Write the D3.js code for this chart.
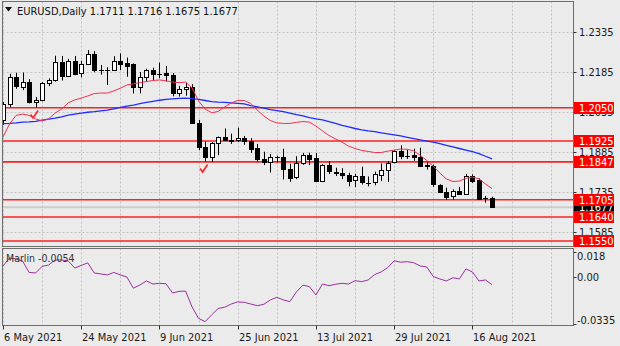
<!DOCTYPE html>
<html>
<head>
<meta charset="utf-8">
<script src="https://cdn.jsdelivr.net/npm/d3@7"></script>
<style>
  html, body { margin: 0; padding: 0; background: #ebebeb; }
  svg { display: block; font-family: "DejaVu Sans Condensed", "Liberation Sans Narrow", "Liberation Sans", sans-serif; font-stretch: condensed; }
</style>
</head>
<body>
<svg id="chart" width="620" height="346"></svg>
<script>
// EURUSD daily bars
const dates = ["2021-05-06","2021-05-07","2021-05-10","2021-05-11","2021-05-12","2021-05-13","2021-05-14","2021-05-17","2021-05-18","2021-05-19","2021-05-20","2021-05-21","2021-05-24","2021-05-25","2021-05-26","2021-05-27","2021-05-28","2021-05-31","2021-06-01","2021-06-02","2021-06-03","2021-06-04","2021-06-07","2021-06-08","2021-06-09","2021-06-10","2021-06-11","2021-06-14","2021-06-15","2021-06-16","2021-06-17","2021-06-18","2021-06-21","2021-06-22","2021-06-23","2021-06-24","2021-06-25","2021-06-28","2021-06-29","2021-06-30","2021-07-01","2021-07-02","2021-07-05","2021-07-06","2021-07-07","2021-07-08","2021-07-09","2021-07-12","2021-07-13","2021-07-14","2021-07-15","2021-07-16","2021-07-19","2021-07-20","2021-07-21","2021-07-22","2021-07-23","2021-07-26","2021-07-27","2021-07-28","2021-07-29","2021-07-30","2021-08-02","2021-08-03","2021-08-04","2021-08-05","2021-08-06","2021-08-09","2021-08-10","2021-08-11","2021-08-12","2021-08-13","2021-08-16","2021-08-17","2021-08-18","2021-08-19"];

const open = [
  1.2005,1.2065,1.2165,1.2130,1.2147,1.2071,1.2078,1.2141,1.2154,1.2223,
  1.2172,1.2227,1.2178,1.2212,1.2250,1.2196,1.2193,1.2193,1.2225,1.2218,
  1.2212,1.2127,1.2165,1.2190,1.2174,1.2180,1.2174,1.2106,1.2120,1.2127,
  1.1993,1.1903,1.1865,1.1916,1.1939,1.1926,1.1930,1.1937,1.1924,1.1898,
  1.1857,1.1846,1.1864,1.1866,1.1822,1.1790,1.1843,1.1874,1.1860,1.1775,
  1.1834,1.1810,1.1805,1.1799,1.1778,1.1793,1.1771,1.1769,1.1800,1.1818,
  1.1844,1.1886,1.1869,1.1872,1.1866,1.1836,1.1830,1.1761,1.1735,1.1718,
  1.1739,1.1728,1.1795,1.1778,1.1708,1.1711];

const high = [
  1.2071,1.2177,1.2181,1.2182,1.2157,1.2090,1.2146,1.2160,1.2245,1.2244,
  1.2233,1.2244,1.2226,1.2266,1.2262,1.2210,1.2202,1.2243,1.2254,1.2238,
  1.2216,1.2184,1.2196,1.2200,1.2219,1.2206,1.2180,1.2132,1.2144,1.2138,
  1.2004,1.1923,1.1921,1.1942,1.1972,1.1953,1.1975,1.1944,1.1936,1.1914,
  1.1885,1.1876,1.1870,1.1896,1.1840,1.1868,1.1880,1.1881,1.1880,1.1838,
  1.1849,1.1825,1.1823,1.1806,1.1802,1.1829,1.1792,1.1810,1.1841,1.1850,
  1.1891,1.1909,1.1892,1.1896,1.1900,1.1849,1.1837,1.1763,1.1750,1.1744,
  1.1753,1.1802,1.1800,1.1785,1.1719,1.1716];

const low = [
  1.1986,1.2052,1.2121,1.2116,1.2066,1.2051,1.2074,1.2131,1.2148,1.2152,
  1.2165,1.2172,1.2164,1.2210,1.2183,1.2174,1.2135,1.2188,1.2191,1.2166,
  1.2103,1.2104,1.2147,1.2151,1.2161,1.2148,1.2093,1.2092,1.2095,1.1991,
  1.1891,1.1848,1.1846,1.1872,1.1925,1.1914,1.1922,1.1911,1.1880,1.1847,
  1.1835,1.1807,1.1845,1.1781,1.1772,1.1782,1.1836,1.1835,1.1772,1.1771,
  1.1801,1.1794,1.1782,1.1755,1.1752,1.1762,1.1755,1.1759,1.1775,1.1771,
  1.1841,1.1857,1.1858,1.1851,1.1829,1.1818,1.1753,1.1733,1.1705,1.1706,
  1.1726,1.1724,1.1768,1.1704,1.1694,1.1675];

const close = [
  1.2065,1.2165,1.2130,1.2147,1.2071,1.2078,1.2141,1.2154,1.2223,1.2172,
  1.2227,1.2178,1.2212,1.2250,1.2191,1.2193,1.2192,1.2225,1.2214,1.2207,
  1.2127,1.2165,1.2190,1.2174,1.2177,1.2174,1.2106,1.2120,1.2127,1.1993,
  1.1903,1.1865,1.1916,1.1939,1.1926,1.1930,1.1937,1.1924,1.1895,1.1857,
  1.1846,1.1864,1.1866,1.1822,1.1790,1.1843,1.1874,1.1860,1.1775,1.1834,
  1.1810,1.1805,1.1799,1.1776,1.1793,1.1771,1.1769,1.1800,1.1818,1.1844,
  1.1886,1.1869,1.1870,1.1864,1.1833,1.1832,1.1761,1.1735,1.1717,1.1738,
  1.1728,1.1795,1.1777,1.1708,1.1711,1.1677];

// moving averages (fast = red, slow = blue)
const fastMA = [
  1.1940,1.1989,1.2021,1.2026,1.2021,1.2008,1.2000,1.2008,1.2030,1.2045,
  1.2068,1.2079,1.2086,1.2094,1.2103,1.2105,1.2105,1.2113,1.2123,1.2135,
  1.2139,1.2144,1.2148,1.2152,1.2154,1.2151,1.2146,1.2144,1.2146,1.2124,
  1.2075,1.2045,1.2031,1.2036,1.2053,1.2068,1.2077,1.2077,1.2066,1.2041,
  1.2019,1.2002,1.1993,1.1991,1.1991,1.1995,1.1998,1.1996,1.1981,1.1963,
  1.1946,1.1933,1.1921,1.1906,1.1897,1.1890,1.1886,1.1882,1.1882,1.1887,
  1.1891,1.1895,1.1894,1.1888,1.1871,1.1852,1.1830,1.1805,1.1783,1.1773,
  1.1775,1.1785,1.1790,1.1783,1.1764,1.1747];

const slowMA = [
  1.1990,1.1991,1.1993,1.1996,1.1997,1.1999,1.2003,1.2007,1.2011,1.2016,
  1.2022,1.2026,1.2030,1.2033,1.2035,1.2038,1.2041,1.2046,1.2051,1.2056,
  1.2060,1.2065,1.2070,1.2074,1.2078,1.2081,1.2083,1.2085,1.2086,1.2084,
  1.2081,1.2077,1.2073,1.2071,1.2070,1.2068,1.2066,1.2064,1.2058,1.2053,
  1.2048,1.2043,1.2039,1.2035,1.2030,1.2024,1.2019,1.2013,1.2008,1.2004,
  1.1998,1.1991,1.1984,1.1978,1.1972,1.1967,1.1963,1.1960,1.1956,1.1952,
  1.1948,1.1944,1.1939,1.1934,1.1929,1.1925,1.1921,1.1915,1.1909,1.1903,
  1.1897,1.1891,1.1885,1.1878,1.1868,1.1858];

// Marlin oscillator
const marlin = [
  0.0080,0.0137,0.0130,0.0116,0.0034,0.0030,0.0077,0.0087,0.0123,0.0123,
  0.0116,0.0066,0.0084,0.0102,0.0030,0.0023,0.0016,0.0034,0.0016,0.0001,
  -0.0079,-0.0056,-0.0027,-0.0049,-0.0044,-0.0047,-0.0113,-0.0102,-0.0099,-0.0213,
  -0.0295,-0.0318,-0.0270,-0.0224,-0.0215,-0.0192,-0.0177,-0.0180,-0.0192,-0.0204,
  -0.0194,-0.0163,-0.0144,-0.0163,-0.0175,-0.0106,-0.0057,-0.0068,-0.0127,-0.0049,
  -0.0061,-0.0051,-0.0044,-0.0049,-0.0025,-0.0032,-0.0020,0.0019,0.0037,0.0068,
  0.0117,0.0107,0.0111,0.0103,0.0080,0.0073,0.0004,-0.0013,-0.0027,-0.0004,
  -0.0013,0.0059,0.0037,-0.0027,-0.0020,-0.0054];

// horizontal support / resistance levels
const levels = [1.2050, 1.1925, 1.1847, 1.1705, 1.1640, 1.1550];
// price scale tick labels
const priceTicks = [1.2335, 1.2185, 1.2035, 1.1885, 1.1735, 1.1585];
// oscillator scale ticks
const marlinTicks = [0.018, 0.00, -0.0335];
const marlinTickLabels = ["0.018", "0.00", "-0.0335"];
// bars marked with a check sign
const markedBars = [5, 31];

const labelEvery = 12, gridEvery = 6;
const n = dates.length;
const parse = d3.timeParse("%Y-%m-%d");
const fmtDate = d3.timeFormat("%-d %b %Y");

const svg = d3.select("#chart");
const main = { left: 2.5, right: 573.5, top: 1.5, bottom: 246.5 };
const sub = { top: 248.5, bottom: 325.5 };

const x = d3.scaleLinear().domain([0, n - 1]).range([3, 492]);
const y = d3.scaleLinear().domain([1.1585, 1.2335]).range([231.7, 31.7]);
const ys = d3.scaleLinear().domain([-0.0335, 0.018]).range([324, 252]);
const px = v => Math.round(v) + 0.5;
const barStep = x(1) - x(0);

svg.append("rect").attr("width", 620).attr("height", 346).attr("fill", "#ebebeb");

const defs = svg.append("defs");
defs.append("clipPath").attr("id", "clipMain").append("rect")
  .attr("x", main.left).attr("y", main.top)
  .attr("width", main.right - main.left).attr("height", main.bottom - main.top);
defs.append("clipPath").attr("id", "clipSub").append("rect")
  .attr("x", main.left).attr("y", sub.top)
  .attr("width", main.right - main.left).attr("height", sub.bottom - sub.top);

// grid
const grid = svg.append("g").attr("stroke", "#c2c2c2").attr("stroke-dasharray", "2,2").attr("stroke-width", 1);
grid.selectAll("line.h").data(priceTicks).join("line")
  .attr("x1", main.left).attr("x2", main.right)
  .attr("y1", d => px(y(d))).attr("y2", d => px(y(d)));
const gridIdx = d3.range(0, 200, gridEvery).filter(i => x(i) < main.right - 2);
[[main.top, main.bottom], [sub.top, sub.bottom]].forEach(([t, b]) => {
  grid.append("g").selectAll("line").data(gridIdx).join("line")
    .attr("x1", i => px(x(i))).attr("x2", i => px(x(i)))
    .attr("y1", t).attr("y2", b);
});

const gm = svg.append("g").attr("clip-path", "url(#clipMain)");

// bid line
gm.append("line")
  .attr("x1", main.left).attr("x2", main.right)
  .attr("y1", y(close[n - 1])).attr("y2", y(close[n - 1]))
  .attr("stroke", "#cdcdcd").attr("stroke-width", 2);

// levels
gm.selectAll("line.level").data(levels).join("line")
  .attr("class", "level")
  .attr("x1", main.left).attr("x2", main.right)
  .attr("y1", d => y(d)).attr("y2", d => y(d))
  .attr("stroke", "#ff2020").attr("stroke-width", 1.6);

// candles
const bars = d3.range(n);
const cg = gm.append("g");
cg.selectAll("line.wick").data(bars).join("line")
  .attr("x1", i => px(x(i))).attr("x2", i => px(x(i)))
  .attr("y1", i => y(high[i])).attr("y2", i => y(low[i]))
  .attr("stroke", "#000").attr("stroke-width", 1);
cg.selectAll("rect.body").data(bars.filter(i => Math.abs(y(open[i]) - y(close[i])) >= 1)).join("rect")
  .attr("x", i => Math.round(x(i)) - 2 + 0.5)
  .attr("width", 4)
  .attr("y", i => Math.round(y(Math.max(open[i], close[i]))) + 0.5)
  .attr("height", i => Math.max(1, Math.round(Math.abs(y(open[i]) - y(close[i])))))
  .attr("fill", i => close[i] >= open[i] ? "#ffffff" : "#000000")
  .attr("stroke", "#000").attr("stroke-width", 1);
cg.selectAll("line.doji").data(bars.filter(i => Math.abs(y(open[i]) - y(close[i])) < 1)).join("line")
  .attr("x1", i => Math.round(x(i)) - 2).attr("x2", i => Math.round(x(i)) + 3)
  .attr("y1", i => px(y(close[i]))).attr("y2", i => px(y(close[i])))
  .attr("stroke", "#000").attr("stroke-width", 1);

// moving averages
const lineGen = arr => d3.line().x((d, i) => x(i)).y(d => y(d)).curve(d3.curveLinear)(arr);
gm.append("path").attr("d", lineGen(slowMA)).attr("fill", "none").attr("stroke", "#1f2cff").attr("stroke-width", 1.3);
gm.append("path").attr("d", lineGen(fastMA)).attr("fill", "none").attr("stroke", "#f0304f").attr("stroke-width", 1);

// check marks under marked bars
gm.selectAll("path.check").data(markedBars).join("path")
  .attr("d", i => {
    const cx = x(i), t = y(low[i]) + 3;
    return `M${cx - 5},${t + 4} L${cx - 2.5},${t + 7.5} L${cx + 2.5},${t}`;
  })
  .attr("fill", "none").attr("stroke", "#ff2020").attr("stroke-width", 1.6);

// oscillator
const gs = svg.append("g").attr("clip-path", "url(#clipSub)");
gs.append("path")
  .attr("d", d3.line().x((d, i) => x(i)).y(d => ys(d))(marlin))
  .attr("fill", "none").attr("stroke", "#9a2fa0").attr("stroke-width", 1);

// frames
svg.append("rect").attr("x", main.left).attr("y", main.top)
  .attr("width", main.right - main.left).attr("height", main.bottom - main.top)
  .attr("fill", "none").attr("stroke", "#6e6e6e");
svg.append("rect").attr("x", main.left).attr("y", sub.top)
  .attr("width", main.right - main.left).attr("height", sub.bottom - sub.top)
  .attr("fill", "none").attr("stroke", "#6e6e6e");

// price axis
const axisG = svg.append("g").attr("font-size", 11).attr("fill", "#1a1a1a");
axisG.selectAll("line").data(priceTicks).join("line")
  .attr("x1", main.right).attr("x2", main.right + 3)
  .attr("y1", d => px(y(d))).attr("y2", d => px(y(d)))
  .attr("stroke", "#333");
axisG.selectAll("text").data(priceTicks).join("text")
  .attr("x", 579).attr("y", d => y(d)).attr("dy", "0.36em")
  .text(d => d.toFixed(4));

// oscillator axis
const subAxis = svg.append("g").attr("font-size", 11).attr("fill", "#1a1a1a");
subAxis.selectAll("line").data(marlinTicks).join("line")
  .attr("x1", main.right).attr("x2", main.right + 3)
  .attr("y1", d => px(ys(d))).attr("y2", d => px(ys(d)))
  .attr("stroke", "#333");
subAxis.selectAll("text").data(marlinTicks).join("text")
  .attr("x", 577).attr("y", d => Math.min(320, Math.max(256, ys(d)))).attr("dy", "0.36em")
  .text((d, i) => marlinTickLabels[i]);

// current price box, then level boxes on top
const boxH = 12, boxW = 40;
const tag = (g, v, fill) => {
  const cy = Math.round(y(v));
  g.append("rect").attr("x", main.right + 0.5).attr("y", cy - boxH / 2)
    .attr("width", boxW).attr("height", boxH).attr("fill", fill);
  g.append("text").attr("x", 579).attr("y", cy).attr("dy", "0.36em")
    .attr("fill", "#ffffff").attr("font-size", 11).text(v.toFixed(4));
};
const tags = svg.append("g");
tag(tags, close[n - 1], "#000000");
levels.forEach(v => tag(tags, v, "#ff0000"));

// date axis
const labelIdx = d3.range(0, n, labelEvery);
const dateAxis = svg.append("g").attr("font-size", 11).attr("fill", "#1a1a1a");
dateAxis.selectAll("line").data(labelIdx).join("line")
  .attr("x1", i => px(x(i))).attr("x2", i => px(x(i)))
  .attr("y1", sub.bottom).attr("y2", sub.bottom + 4)
  .attr("stroke", "#333");
dateAxis.selectAll("text").data(labelIdx).join("text")
  .attr("x", i => Math.round(x(i)) + 1).attr("y", 341)
  .text(i => fmtDate(parse(dates[i])));

// header
svg.append("path").attr("d", "M5,7 L12,7 L8.5,11.5 Z").attr("fill", "#111");
svg.append("text").attr("x", 17).attr("y", 15).attr("font-size", 11).attr("fill", "#111")
  .text(`EURUSD,Daily  ${open[n - 1].toFixed(4)} ${high[n - 1].toFixed(4)} ${low[n - 1].toFixed(4)} ${close[n - 1].toFixed(4)}`);

// oscillator caption
svg.append("text").attr("x", 6).attr("y", 262).attr("font-size", 10.5).attr("fill", "#333")
  .text(`Marlin ${marlin[n - 1].toFixed(4)}`);
</script>
</body>
</html>
